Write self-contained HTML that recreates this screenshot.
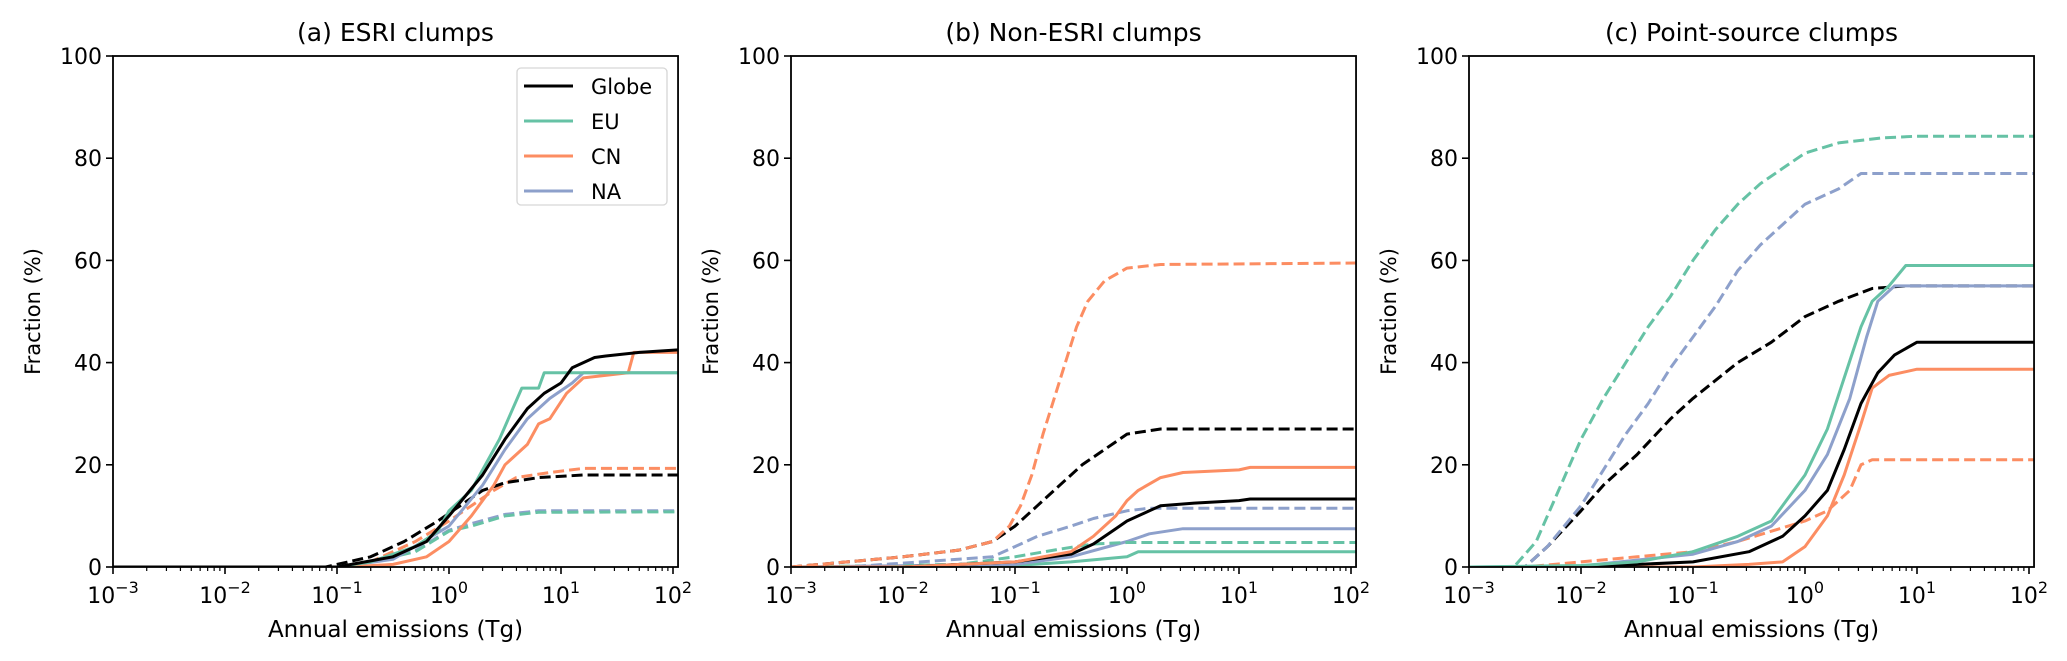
<!DOCTYPE html>
<html><head><meta charset="utf-8">
<style>
html,body{margin:0;padding:0;background:#fff;}
svg{display:block;font-family:"DejaVu Sans","Liberation Sans",sans-serif;}
</style></head>
<body>
<svg id="fig" width="2067" height="661" viewBox="0 0 2067 661" xmlns="http://www.w3.org/2000/svg"></svg>
<script>
// ---- data (x = log10 annual emissions in Tg, y = fraction %) ----
const panelTitles = ["(a) ESRI clumps", "(b) Non-ESRI clumps", "(c) Point-source clumps"];
const yTicks = [0, 20, 40, 60, 80, 100];
const xTickExps = [-3, -2, -1, 0, 1, 2];
const legendLabels = ["Globe", "EU", "CN", "NA"];

// panel a
const aGlobeSolid = [[-3,0],[-1.0,0],[-0.5,2],[-0.2,5],[0,10],[0.15,14],[0.3,18],[0.5,25],[0.7,31],[0.85,34],[1.0,36],[1.1,39],[1.3,41],[1.4,41.3],[1.7,42],[2.05,42.5]];
const aEUSolid = [[-3,0],[-1.0,0],[-0.7,1],[-0.3,4],[-0.1,7],[0,11],[0.2,15],[0.3,19],[0.45,25],[0.55,30],[0.65,35],[0.8,35],[0.85,38],[2.05,38]];
const aCNSolid = [[-3,0],[-0.9,0],[-0.5,0.5],[-0.2,2],[0,5],[0.2,10],[0.4,16],[0.5,20],[0.7,24],[0.8,28],[0.9,29],[1.05,34],[1.2,37],[1.6,38],[1.65,42],[2.05,42]];
const aNASolid = [[-3,0],[-1.0,0],[-0.5,1.5],[0,8],[0.3,16],[0.5,23],[0.7,29],[0.9,33],[1.1,36],[1.2,38],[2.05,38]];
const aGlobeDash = [[-3,0],[-1.1,0],[-0.7,2],[-0.4,5],[-0.1,9],[0.1,12],[0.3,15],[0.5,16.5],[0.8,17.5],[1.2,18],[2.05,18]];
const aEUDash = [[-3,0],[-1.0,0],[-0.7,1],[-0.3,3],[0,7],[0.2,8],[0.5,10],[0.8,10.7],[2.05,10.8]];
const aCNDash = [[-3,0],[-1.0,0],[-0.7,1],[-0.3,5],[0,9],[0.2,12],[0.4,15],[0.6,17.5],[0.9,18.5],[1.2,19.3],[2.05,19.3]];
const aNADash = [[-3,0],[-1.0,0],[-0.7,1],[-0.3,3.2],[0,7.2],[0.2,8.5],[0.5,10.3],[0.8,11],[2.05,11]];

// panel b
const bGlobeSolid = [[-3,0],[-2,0],[-1,1],[-0.5,2.5],[-0.3,4.5],[-0.1,7.5],[0,9],[0.2,11],[0.3,12],[0.6,12.5],[1.0,13],[1.1,13.3],[2.05,13.3]];
const bEUSolid = [[-3,0],[-1,0.3],[-0.5,1],[0,2],[0.1,3],[2.05,3]];
const bCNSolid = [[-3,0],[-2,0],[-1,1],[-0.5,3],[-0.3,6],[-0.1,10],[0,13],[0.1,15],[0.3,17.5],[0.5,18.5],[1.0,19],[1.1,19.5],[2.05,19.5]];
const bNASolid = [[-3,0],[-1,0.5],[-0.5,2],[0,5],[0.2,6.5],[0.5,7.5],[2.05,7.5]];
const bGlobeDash = [[-3,0],[-2,2],[-1.5,3.3],[-1.2,5],[-1,8],[-0.8,12],[-0.6,16],[-0.4,20],[-0.2,23],[0,26],[0.3,27],[2.05,27]];
const bEUDash = [[-3,0],[-1.5,0.5],[-1,2],[-0.6,3.5],[-0.3,4.5],[0,4.8],[2.05,4.8]];
const bCNDash = [[-3,0],[-2,2],[-1.5,3.3],[-1.2,5],[-1.05,8],[-0.95,12],[-0.85,18],[-0.75,26],[-0.65,33],[-0.55,40],[-0.45,47],[-0.35,52],[-0.2,56],[0,58.5],[0.3,59.2],[2.05,59.5]];
const bNADash = [[-3,0],[-2.5,0],[-1.2,2],[-1,4],[-0.8,6],[-0.5,8],[-0.3,9.5],[0,11],[0.2,11.5],[2.05,11.5]];

// panel c
const cGlobeSolid = [[-3,0],[-2,0],[-1,1],[-0.5,3],[-0.2,6],[0,10],[0.2,15],[0.35,23],[0.5,32],[0.65,38],[0.8,41.5],[1.0,44],[2.05,44]];
const cEUSolid = [[-3,0],[-2,0.3],[-1.5,1],[-1,3],[-0.6,6],[-0.3,9],[0,18],[0.2,27],[0.35,37],[0.5,47],[0.6,52],[0.75,55],[0.9,59],[2.05,59]];
const cCNSolid = [[-3,0],[-1,0],[-0.5,0.5],[-0.2,1],[0,4],[0.2,10],[0.35,18],[0.5,28],[0.6,35],[0.75,37.5],[1.0,38.7],[2.05,38.7]];
const cNASolid = [[-3,0],[-2,0.2],[-1,2.5],[-0.6,5],[-0.3,8],[0,15],[0.2,22],[0.4,33],[0.55,45],[0.65,52],[0.8,55],[2.05,55]];
const cGlobeDash = [[-3,0],[-2.5,0],[-2.3,4],[-2.0,11],[-1.8,16],[-1.5,22],[-1.2,29],[-1.0,33],[-0.6,40],[-0.3,44],[0,49],[0.3,52],[0.6,54.5],[0.9,55],[2.05,55]];
const cEUDash = [[-3,0],[-2.6,0],[-2.4,5],[-2.2,15],[-2.0,25],[-1.8,33],[-1.6,40],[-1.4,47],[-1.2,53],[-1.0,60],[-0.8,66],[-0.6,71],[-0.4,75],[-0.2,78],[0,81],[0.3,83],[0.7,84],[1.0,84.3],[2.05,84.3]];
const cCNDash = [[-3,0],[-2.5,0],[-2,1],[-1.5,2],[-1,3],[-0.6,5],[-0.3,7],[0,9],[0.2,11],[0.4,15],[0.5,20],[0.6,21],[2.05,21]];
const cNADash = [[-3,0],[-2.5,0],[-2.3,4],[-2.0,12],[-1.8,19],[-1.6,26],[-1.4,32],[-1.2,39],[-1.0,45],[-0.8,51],[-0.6,58],[-0.4,63],[-0.2,67],[0,71],[0.3,74],[0.5,77],[2.05,77]];

const COLORS = {Globe:"#000000", EU:"#66c2a5", CN:"#fc8d62", NA:"#8da0cb"};
const panels = [
  {key:"a", left:113, series:[["NA","dash",aNADash],["EU","dash",aEUDash],["CN","dash",aCNDash],["Globe","dash",aGlobeDash],["NA","solid",aNASolid],["CN","solid",aCNSolid],["EU","solid",aEUSolid],["Globe","solid",aGlobeSolid]]},
  {key:"b", left:791, series:[["EU","solid",bEUSolid],["NA","solid",bNASolid],["EU","dash",bEUDash],["NA","dash",bNADash],["Globe","solid",bGlobeSolid],["CN","solid",bCNSolid],["Globe","dash",bGlobeDash],["CN","dash",bCNDash]]},
  {key:"c", left:1469, series:[["CN","dash",cCNDash],["Globe","dash",cGlobeDash],["NA","dash",cNADash],["EU","dash",cEUDash],["CN","solid",cCNSolid],["Globe","solid",cGlobeSolid],["NA","solid",cNASolid],["EU","solid",cEUSolid]]}
];

const NS = "http://www.w3.org/2000/svg";
const fig = document.getElementById("fig");
const TOP = 56, BOTTOM = 567, DEC = 112, XMIN = -3, XMAX = 2.045;
function mk(tag, attrs, parent){ const e=document.createElementNS(NS,tag); for(const k in attrs) e.setAttribute(k,attrs[k]); (parent||fig).appendChild(e); return e; }

panels.forEach((p, pi) => {
  const g = mk("g", {});
  
  
  const L = p.left, R = L + (XMAX - XMIN) * DEC;
  const xs = v => L + (v - XMIN) * DEC;
  const ys = v => BOTTOM - v / 100 * (BOTTOM - TOP);

  const t = mk("text", {x:(L+R)/2, y:41, "text-anchor":"middle", "font-size":"25", fill:"#000"}, g);
  t.textContent = panelTitles[pi];
  
  

  const clipId = "clip" + p.key;
  const cp = mk("clipPath", {id:clipId}, g);
  mk("rect", {x:L, y:TOP-2, width:R-L, height:BOTTOM-TOP+2}, cp);
  const sg = mk("g", {"clip-path":"url(#"+clipId+")"}, g);
  p.series.forEach(s => {
    const pts = s[2].map(d => xs(d[0]).toFixed(1) + "," + ys(d[1]).toFixed(1)).join(" ");
    const pl = mk("polyline", {points:pts, fill:"none", stroke:COLORS[s[0]], "stroke-width":"3", "stroke-linejoin":"round"}, sg);
    if (s[1] === "dash") pl.setAttribute("stroke-dasharray", "11,5");
    
    
  });

  const fr = mk("rect", {x:L, y:TOP, width:R-L, height:BOTTOM-TOP, fill:"none", stroke:"#000", "stroke-width":"1.8"}, g);
  
  

  yTicks.forEach(v => {
    const y = ys(v);
    mk("line", {x1:L-7, x2:L, y1:y, y2:y, stroke:"#000", "stroke-width":"1.6"}, g);
    const tl = mk("text", {x:L-11, y:y+8, "text-anchor":"end", "font-size":"22", fill:"#000"}, g);
    tl.textContent = v;
    
    
  });
  xTickExps.forEach(e => {
    const x = xs(e);
    mk("line", {x1:x, x2:x, y1:BOTTOM, y2:BOTTOM+7, stroke:"#000", "stroke-width":"1.6"}, g);
    const tl = mk("text", {x:x, y:BOTTOM+36, "text-anchor":"middle", "font-size":"22", fill:"#000"}, g);
    const b = mk("tspan", {}, tl); b.textContent = "10";
    const sp = mk("tspan", {dy:"-10", "font-size":"16"}, tl); sp.textContent = (e < 0 ? "\u2212" + (-e) : String(e));
    
    
    if (e < 2) for (let m = 2; m <= 9; m++) {
      const xm = xs(e + Math.log10(m));
      mk("line", {x1:xm, x2:xm, y1:BOTTOM, y2:BOTTOM+4, stroke:"#000", "stroke-width":"1.2"}, g);
    }
  });

  const xl = mk("text", {x:(L+R)/2, y:637, "text-anchor":"middle", "font-size":"23", fill:"#000"}, g);
  xl.textContent = "Annual emissions (Tg)";
  
  
  const yl = mk("text", {x:0, y:0, "text-anchor":"middle", "font-size":"21", fill:"#000", transform:"translate(" + (L-73) + "," + ((TOP+BOTTOM)/2) + ") rotate(-90)"}, g);
  yl.textContent = "Fraction (%)";
  
  

  if (pi === 0) {
    const lg = mk("g", {}, g);
    
    
    mk("rect", {x:517, y:68, width:150, height:137, rx:4, fill:"#fff", "fill-opacity":"0.8", stroke:"#d6d6d6", "stroke-width":"1.3"}, lg);
    legendLabels.forEach((lab, i) => {
      const y = 86 + i * 35;
      const ln = mk("line", {x1:524, x2:573, y1:y, y2:y, stroke:COLORS[lab], "stroke-width":"3"}, lg);
      
      
      const tx = mk("text", {x:591, y:y+8, "font-size":"21", fill:"#000"}, lg);
      tx.textContent = lab;
      
      
    });
  }
});
</script>
</body></html>
